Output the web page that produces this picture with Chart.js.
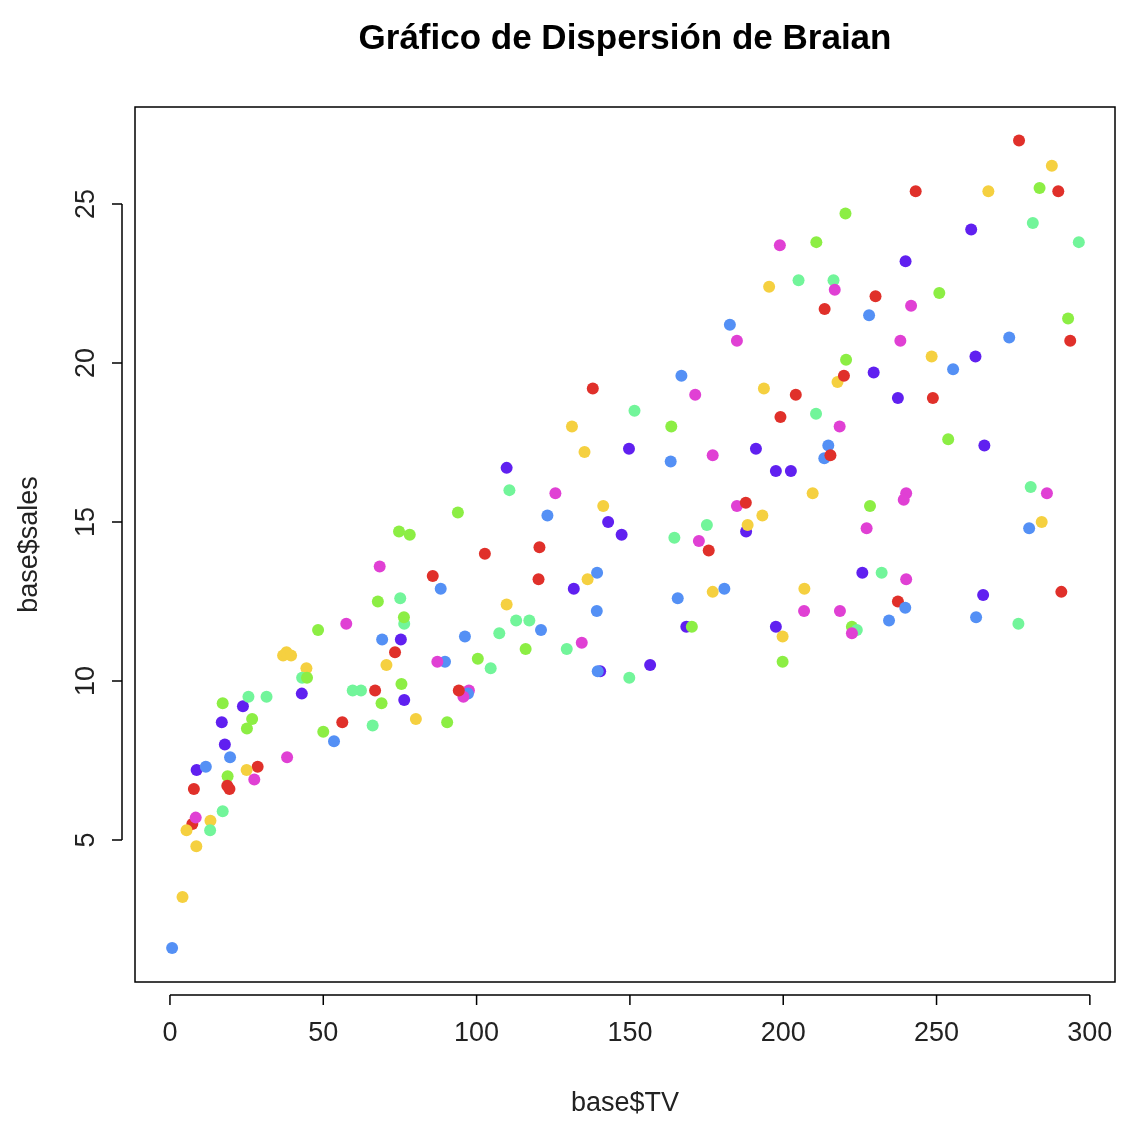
<!DOCTYPE html>
<html><head><meta charset="utf-8">
<script src="https://cdn.jsdelivr.net/npm/chart.js@4"></script>
<style>html,body{margin:0;padding:0;background:#fff}#c{display:block}</style>
</head><body>
<div style="width:1133px;height:1126px"><canvas id="c"></canvas></div>
<script>
const tv=[230.1,44.5,17.2,151.5,180.8,8.7,57.5,120.2,8.6,199.8,66.1,214.7,23.8,97.5,204.1,195.4,67.8,281.4,69.2,147.3,218.4,237.4,13.2,228.3,62.3,262.9,142.9,240.1,248.8,70.6,292.9,112.9,97.2,265.6,95.7,290.7,266.9,74.7,43.1,228,202.5,177,293.6,206.9,25.1,175.1,89.7,239.9,227.2,66.9,199.8,100.4,216.4,182.6,262.7,198.9,7.3,136.2,210.8,210.7,53.5,261.3,239.3,102.7,131.1,69,31.5,139.3,237.4,216.8,199.1,109.8,26.8,129.4,213.4,16.9,27.5,120.5,5.4,116,76.4,239.8,75.3,68.4,213.5,193.2,76.3,110.7,88.3,109.8,134.3,28.6,217.7,250.9,107.4,163.3,197.6,184.9,289.7,135.2,222.4,296.4,280.2,187.9,238.2,137.9,25,90.4,13.1,255.4,225.8,241.7,175.7,209.6,78.2,75.1,139.2,76.4,125.7,19.4,141.3,18.8,224,123.1,229.5,87.2,7.8,80.2,220.3,59.6,0.7,265.2,8.4,219.8,36.9,48.3,25.6,273.7,43,184.9,73.4,193.7,220.5,104.6,96.2,140.3,240.1,243.2,38,44.7,280.7,121,197.6,171.3,187.8,4.1,93.9,149.8,11.7,131.7,172.5,85.7,188.4,163.5,117.2,234.5,17.9,206.8,215.4,284.3,50,164.5,19.6,168.4,222.4,276.9,248.4,170.2,276.7,165.6,156.6,218.5,56.2,287.6,253.8,205,139.5,191.1,286,18.7,39.5,75.5,17.2,166.8,149.7,38.2,94.2,177,283.6,232.1];
const sales=[22.1,10.4,9.3,18.5,12.9,7.2,11.8,13.2,4.8,10.6,8.6,17.4,9.2,9.7,19,22.4,12.5,24.4,11.3,14.6,18,12.5,5.6,15.5,9.7,12,15,15.9,18.9,10.5,21.4,11.9,9.6,17.4,9.5,12.8,25.4,14.7,10.1,21.5,16.6,17.1,20.7,12.9,8.5,14.9,10.6,23.2,14.8,9.7,11.4,10.7,22.6,21.2,20.2,23.7,5.5,13.2,23.8,18.4,8.1,24.2,15.7,14,18,9.3,9.5,13.4,18.9,22.3,18.3,12.4,8.8,11,17,8.7,6.9,14.2,5.3,11,11.8,12.3,11.3,13.6,21.7,15.2,12,16,12.9,16.7,11.2,7.3,19.4,22.2,11.5,16.9,11.7,15.5,25.4,17.2,11.7,23.8,14.8,14.7,20.7,19.2,7.2,8.7,5.3,19.8,13.4,21.8,14.1,15.9,14.6,12.6,12.2,9.4,15.9,6.6,15.5,7,11.6,15.2,19.7,10.6,6.6,8.8,24.7,9.7,1.6,12.7,5.7,19.6,10.8,11.6,9.5,20.8,9.6,20.7,10.9,19.2,20.1,10.4,11.4,10.3,13.2,25.4,10.9,10.1,16.1,11.6,16.6,19,15.6,3.2,15.3,10.1,7.3,12.9,14.4,13.3,14.9,18,11.9,11.9,8,12.2,17.1,15,8.4,14.5,7.6,11.7,11.5,27,20.2,11.7,11.8,12.6,10.5,12.2,8.7,26.2,17.6,22.6,10.3,17.3,15.9,6.7,10.8,9.9,5.9,19.6,17.3,7.6,9.7,12.8,25.5,13.4];
const palette=['#E0302A','#F5D040','#8CEE44','#72F59A','#5490F5','#6020F0','#E040D4'];
const xTicks=[0,50,100,150,200,250,300];
const yTicks=[5,10,15,20,25];
const FONT='"Liberation Sans", Arial, sans-serif';
const pts=tv.map((x,i)=>({x:x,y:sales[i]}));
const deco={id:'deco',afterDraw(c){
  const ctx=c.ctx,a=c.chartArea,xs=c.scales.x,ys=c.scales.y;
  ctx.save();ctx.strokeStyle='#000';ctx.lineWidth=1.5;
  ctx.strokeRect(a.left,a.top,a.right-a.left,a.bottom-a.top);
  ctx.fillStyle='#222';ctx.font='27px '+FONT;
  const bx=a.bottom+13;
  ctx.beginPath();
  const x0=xs.getPixelForValue(xTicks[0]),x1=xs.getPixelForValue(xTicks[xTicks.length-1]);
  ctx.moveTo(x0,bx);ctx.lineTo(x1,bx);
  ctx.textAlign='center';ctx.textBaseline='top';
  xTicks.forEach(t=>{const p=xs.getPixelForValue(t);ctx.moveTo(p,bx);ctx.lineTo(p,bx+10);ctx.fillText(String(t),p,bx+25);});
  const lx=a.left-13;
  const y0=ys.getPixelForValue(yTicks[0]),y1=ys.getPixelForValue(yTicks[yTicks.length-1]);
  ctx.moveTo(lx,y0);ctx.lineTo(lx,y1);
  yTicks.forEach(t=>{const p=ys.getPixelForValue(t);ctx.moveTo(lx,p);ctx.lineTo(lx-10,p);
    ctx.save();ctx.translate(lx-22,p);ctx.rotate(-Math.PI/2);ctx.textBaseline='bottom';ctx.fillText(String(t),0,0);ctx.restore();});
  ctx.stroke();
  ctx.fillText('base$TV',(a.left+a.right)/2,1090);
  ctx.save();ctx.translate(30,(a.top+a.bottom)/2);ctx.rotate(-Math.PI/2);ctx.textBaseline='middle';ctx.fillText('base$sales',0,0);ctx.restore();
  ctx.fillStyle='#000';ctx.font='bold 35px '+FONT;ctx.textBaseline='middle';
  ctx.fillText('Gráfico de Dispersión de Braian',(a.left+a.right)/2,39);
  ctx.restore();}};
new Chart(document.getElementById('c'),{type:'scatter',
 data:{datasets:[{data:pts,backgroundColor:pts.map((p,i)=>palette[i%7]),borderWidth:0,pointRadius:6,pointHoverRadius:6}]},
 options:{responsive:true,maintainAspectRatio:false,animation:false,
  layout:{padding:{left:135,top:107,right:18,bottom:144}},
  plugins:{legend:{display:false},tooltip:{enabled:false}},
  scales:{x:{type:'linear',display:false,min:-11.4,max:308.2},y:{type:'linear',display:false,min:0.53,max:28.05}}},
 plugins:[deco]});
</script></body></html>
